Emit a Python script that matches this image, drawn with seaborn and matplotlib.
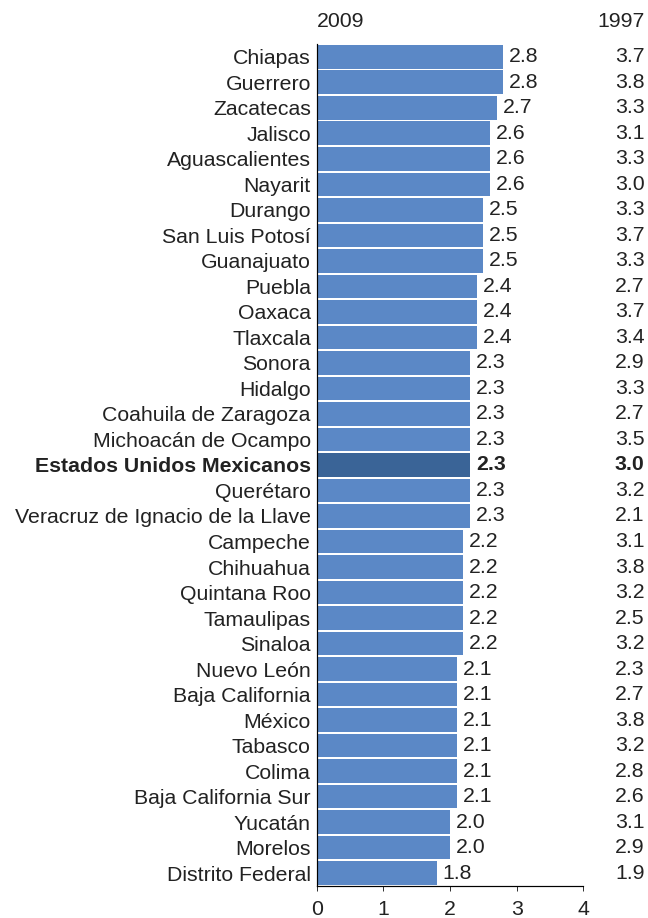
import pandas as pd
import matplotlib.pyplot as plt
import seaborn as sns

states = ["Chiapas", "Guerrero", "Zacatecas", "Jalisco", "Aguascalientes", "Nayarit",
          "Durango", "San Luis Potosí", "Guanajuato", "Puebla", "Oaxaca", "Tlaxcala",
          "Sonora", "Hidalgo", "Coahuila de Zaragoza", "Michoacán de Ocampo",
          "Estados Unidos Mexicanos", "Querétaro", "Veracruz de Ignacio de la Llave",
          "Campeche", "Chihuahua", "Quintana Roo", "Tamaulipas", "Sinaloa", "Nuevo León",
          "Baja California", "México", "Tabasco", "Colima", "Baja California Sur",
          "Yucatán", "Morelos", "Distrito Federal"]
v2009 = [2.8, 2.8, 2.7, 2.6, 2.6, 2.6, 2.5, 2.5, 2.5, 2.4, 2.4, 2.4, 2.3, 2.3, 2.3, 2.3,
         2.3, 2.3, 2.3, 2.2, 2.2, 2.2, 2.2, 2.2, 2.1, 2.1, 2.1, 2.1, 2.1, 2.1, 2.0, 2.0, 1.8]
v1997 = [3.7, 3.8, 3.3, 3.1, 3.3, 3.0, 3.3, 3.7, 3.3, 2.7, 3.7, 3.4, 2.9, 3.3, 2.7, 3.5,
         3.0, 3.2, 2.1, 3.1, 3.8, 3.2, 2.5, 3.2, 2.3, 2.7, 3.8, 3.2, 2.8, 2.6, 3.1, 2.9, 1.9]
national = "Estados Unidos Mexicanos"


def main():
    plt.rcParams['font.family'] = ['Liberation Sans', 'DejaVu Sans']
    fs = 21.3
    df = pd.DataFrame({"estado": states, "v2009": v2009, "v1997": v1997})
    colors = ["#3a6497" if s == national else "#5b88c6" for s in states]

    fig = plt.figure(figsize=(9, 12.75), dpi=72)
    ax = fig.add_axes([0.489, 0.035, 0.411, 0.917])
    sns.barplot(data=df, y="estado", x="v2009", hue="estado", palette=colors,
                legend=False, orient="h", width=0.93, edgecolor="none",
                saturation=1, ax=ax)

    ax.set_xlim(0, 4)
    ax.set_ylim(len(states) - 0.5, -0.5)
    ax.set_xticks([0, 1, 2, 3, 4])
    ax.tick_params(axis="x", labelsize=fs, length=5, color="black", pad=9)
    ax.tick_params(axis="y", length=0, labelsize=fs, pad=6)
    ax.set_xlabel("")
    ax.set_ylabel("")
    for s in ["top", "right"]:
        ax.spines[s].set_visible(False)
    for s in ["left", "bottom"]:
        ax.spines[s].set_color("black")
        ax.spines[s].set_linewidth(1.2)

    for lbl in ax.get_yticklabels():
        lbl.set_color("#222222")
        if lbl.get_text() == national:
            lbl.set_fontweight("bold")
    for lbl in ax.get_xticklabels():
        lbl.set_color("#222222")

    trans = ax.get_yaxis_transform()
    for i, (a, b) in enumerate(zip(v2009, v1997)):
        w = "bold" if states[i] == national else "normal"
        ax.text(a + 0.09, i, f"{a:.1f}", va="center", ha="left", fontsize=fs,
                color="#222222", fontweight=w)
        ax.text(1.23, i, f"{b:.1f}", va="center", ha="right", fontsize=fs,
                color="#222222", fontweight=w, transform=trans)

    ax.text(0.0, -1.4, "2009", fontsize=fs, color="#222222", ha="left", va="center",
            transform=trans)
    ax.text(1.23, -1.4, "1997", fontsize=fs, color="#222222", ha="right", va="center",
            transform=trans)

    fig.savefig("out.png", dpi=72)


if __name__ == "__main__":
    main()
